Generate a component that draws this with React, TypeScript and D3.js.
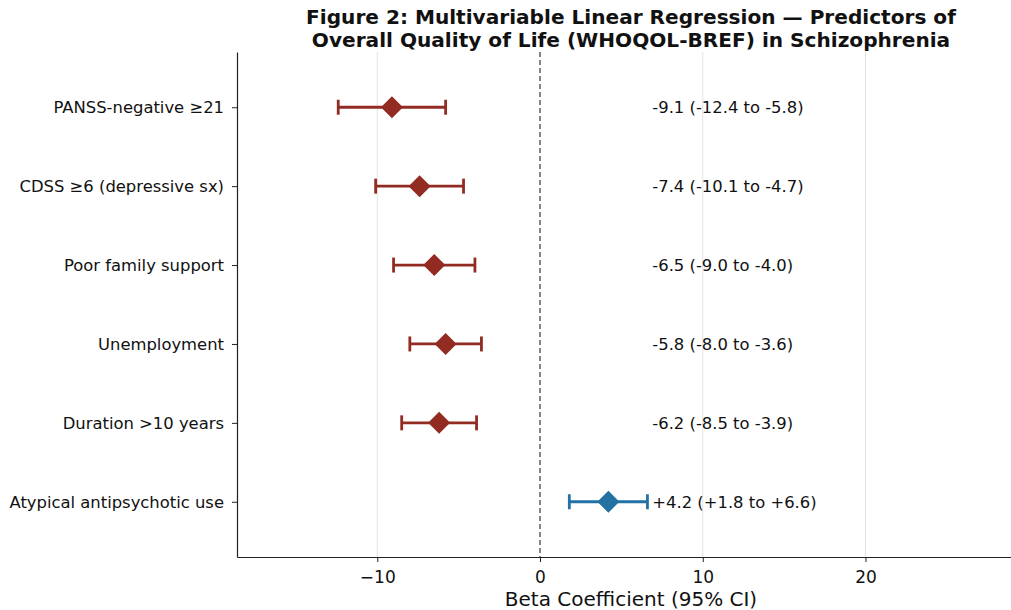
import { useEffect, useRef } from "react";
import * as d3 from "d3";

const predictors = [
  "PANSS-negative ≥21",
  "CDSS ≥6 (depressive sx)",
  "Poor family support",
  "Unemployment",
  "Duration >10 years",
  "Atypical antipsychotic use",
];
const betas = [-9.1, -7.4, -6.5, -5.8, -6.2, 4.2];
const ciLow = [-12.4, -10.1, -9.0, -8.0, -8.5, 1.8];
const ciHigh = [-5.8, -4.7, -4.0, -3.6, -3.9, 6.6];
const ciLabels = [
  "-9.1 (-12.4 to -5.8)",
  "-7.4 (-10.1 to -4.7)",
  "-6.5 (-9.0 to -4.0)",
  "-5.8 (-8.0 to -3.6)",
  "-6.2 (-8.5 to -3.9)",
  "+4.2 (+1.8 to +6.6)",
];
const xTicks = [-10, 0, 10, 20];

export default function App() {
  const ref = useRef<SVGSVGElement>(null);

  useEffect(() => {
    const width = 1011;
    const height = 610;
    const left = 237;
    const right = 1025;
    const top = 52;
    const bottom = 557;
    const font = "DejaVu Sans, sans-serif";

    const svg = d3.select(ref.current);
    svg.selectAll("*").remove();
    svg.attr("width", width).attr("height", height);

    const x = d3.scaleLinear([-18.62, 29.8], [left, right]);
    const y = d3.scaleLinear([-0.7, predictors.length - 0.3], [top, bottom]);

    const red = "#922b21";
    const blue = "#2471a3";
    const colorOf = (i: number) => (betas[i] > 0 ? blue : red);

    // grid
    svg.append("g")
      .selectAll("line")
      .data(xTicks.filter((t) => t !== 0))
      .join("line")
      .attr("x1", (d) => x(d))
      .attr("x2", (d) => x(d))
      .attr("y1", top)
      .attr("y2", bottom)
      .attr("stroke", "#e3e3e3")
      .attr("stroke-width", 1);

    // zero reference line
    svg.append("line")
      .attr("x1", x(0))
      .attr("x2", x(0))
      .attr("y1", top)
      .attr("y2", bottom)
      .attr("stroke", "#444")
      .attr("stroke-width", 1.3)
      .attr("stroke-dasharray", "5,3");

    // error bars
    const rows = svg.append("g")
      .selectAll("g")
      .data(predictors.map((p, i) => i))
      .join("g");

    rows.append("line")
      .attr("x1", (i) => x(ciLow[i]))
      .attr("x2", (i) => x(ciHigh[i]))
      .attr("y1", (i) => y(i))
      .attr("y2", (i) => y(i))
      .attr("stroke", colorOf)
      .attr("stroke-width", 2.8);

    [ciLow, ciHigh].forEach((arr) => {
      rows.append("line")
        .attr("x1", (i) => x(arr[i]))
        .attr("x2", (i) => x(arr[i]))
        .attr("y1", (i) => y(i) - 7.5)
        .attr("y2", (i) => y(i) + 7.5)
        .attr("stroke", colorOf)
        .attr("stroke-width", 2.8);
    });

    rows.append("path")
      .attr("d", (i) => {
        const cx = x(betas[i]);
        const cy = y(i);
        const r = 11;
        return `M${cx},${cy - r}L${cx + r},${cy}L${cx},${cy + r}L${cx - r},${cy}Z`;
      })
      .attr("fill", colorOf);

    rows.append("text")
      .attr("x", x(6.9))
      .attr("y", (i) => y(i))
      .attr("dy", "0.35em")
      .attr("font-family", font)
      .attr("font-size", 16.4)
      .attr("fill", "#111")
      .text((i) => ciLabels[i]);

    // axes
    const xAxis = svg.append("g")
      .attr("transform", `translate(0,${bottom})`)
      .call(d3.axisBottom(x).tickValues(xTicks).tickFormat((d) => d3.format("")(d as number).replace("-", "−")).tickSize(5).tickSizeOuter(0));
    xAxis.select(".domain").attr("stroke", "#222").attr("stroke-width", 1.2);
    xAxis.selectAll(".tick line").attr("stroke", "#222");
    xAxis.selectAll(".tick text")
      .attr("font-family", font)
      .attr("font-size", 17)
      .attr("fill", "#111")
      .attr("y", 26)
      .attr("dy", null);

    const yAxis = svg.append("g")
      .attr("transform", `translate(${left},0)`)
      .call(d3.axisLeft(y).tickValues(predictors.map((p, i) => i)).tickFormat((d) => predictors[d as number]).tickSize(5).tickSizeOuter(0));
    yAxis.select(".domain").attr("stroke", "#222").attr("stroke-width", 1.2);
    yAxis.selectAll(".tick line").attr("stroke", "#222");
    yAxis.selectAll(".tick text")
      .attr("font-family", font)
      .attr("font-size", 16.4)
      .attr("fill", "#111")
      .attr("x", -13);

    svg.append("text")
      .attr("x", 631)
      .attr("y", 606)
      .attr("text-anchor", "middle")
      .attr("font-family", font)
      .attr("font-size", 20)
      .attr("fill", "#111")
      .text("Beta Coefficient (95% CI)");

    // two separate title lines
    const titleLines = [
      "Figure 2: Multivariable Linear Regression — Predictors of",
      "Overall Quality of Life (WHOQOL-BREF) in Schizophrenia",
    ];
    svg.append("g")
      .selectAll("text")
      .data(titleLines)
      .join("text")
      .attr("x", 631)
      .attr("y", (d, i) => 24 + i * 22.5)
      .attr("text-anchor", "middle")
      .attr("font-family", font)
      .attr("font-size", 20.1)
      .attr("font-weight", "bold")
      .attr("fill", "#111")
      .text((d) => d);
  }, []);

  return <svg ref={ref} style={{ position: "absolute", left: 0, top: 0, background: "#fff" }} />;
}
